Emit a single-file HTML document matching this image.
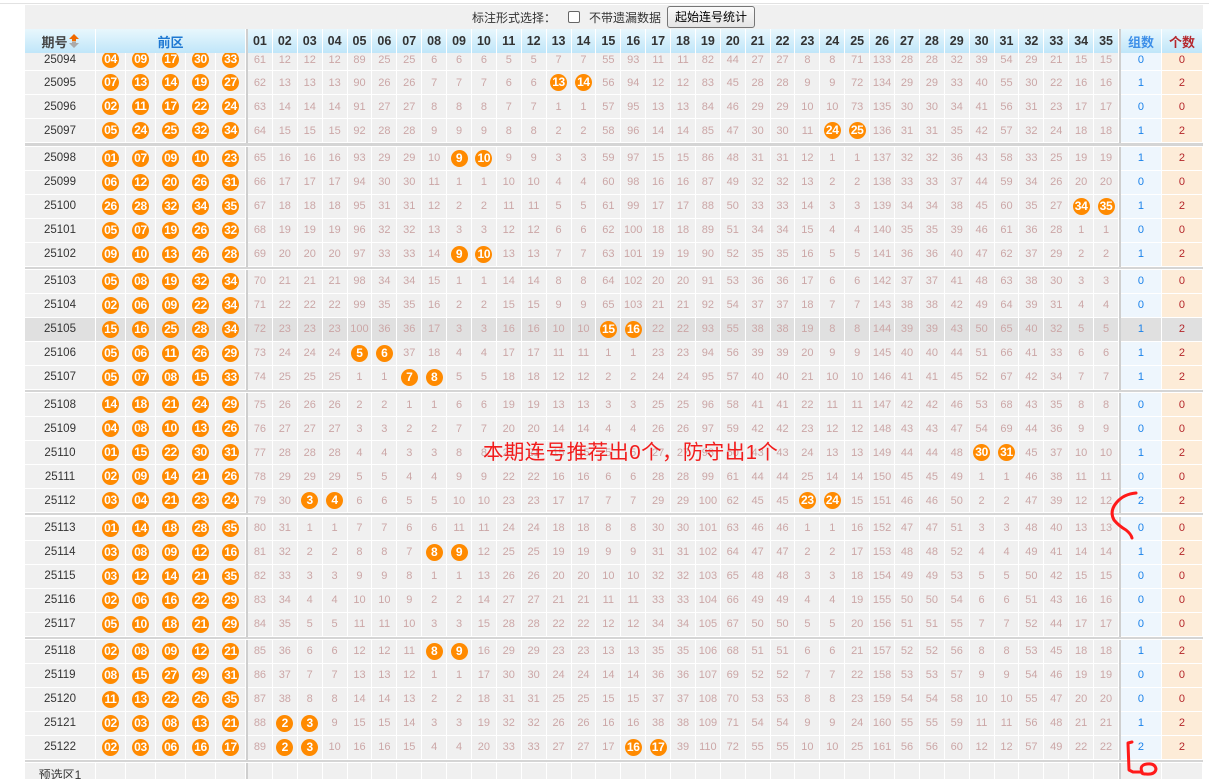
<!DOCTYPE html>
<html><head><meta charset="utf-8">
<style>
html,body{margin:0;padding:0;background:#fff;width:1209px;height:779px;overflow:hidden;position:relative;font-family:"Liberation Sans","Noto Sans CJK SC",sans-serif}
.tl{position:absolute;left:0;top:3px;width:1209px;height:1px;background:#e2e2e2}
.tb{position:absolute;left:25px;top:4.7px;width:1178px;height:24.6px;background:#f0f0f0}
.tx{position:absolute;top:11px;font-size:12px;line-height:14px;color:#333;white-space:nowrap}
.cb{position:absolute;left:568px;top:11px;width:12px;height:12px;box-sizing:border-box;border:1px solid #666;border-radius:2px;background:#fff}
.bt{position:absolute;left:667px;top:6px;width:88px;height:22px;box-sizing:border-box;border:1px solid #767676;border-radius:3px;background:linear-gradient(#fbfbfb,#e4e4e4);font-size:12px;line-height:20px;text-align:center;color:#000}
.hd,.r{position:absolute;left:25px;width:1178px;height:24px;display:grid;grid-template-columns:71px repeat(5,30px) 2px repeat(35,1fr) 2px 41px 41px}
.hd{top:29.3px;z-index:3}
.hd i{font-style:normal;background:linear-gradient(#e8f7fd,#c0e6f9);border-right:1px solid #fff;box-sizing:border-box;display:flex;align-items:center;justify-content:center;font-weight:bold;font-size:12.5px;color:#333}
.hd i.p{background:#cfcfcf;border:0}
.r i{font-style:normal;background:#f0f0f0;border-right:1px solid #fff;border-bottom:1px solid #fff;box-sizing:border-box;display:flex;align-items:center;justify-content:center;color:#cba6a6;font-size:11px;height:24px}
.r.f i{padding-top:2px}
.r i.p{background:#cfcfcf;border:0}
.r i:first-child{color:#333;font-size:11.5px}
.r i:nth-last-child(2){background:#eef6fd;color:#1a82ea}
.r i:last-child{background:#fdecd8;color:#b4262a}
.r.h i:not(.p){background:#e0e0e0}
.r.z i:not(.p){background:#f0f0f0}
.r.z i:first-child{font-size:12px}
b{display:block;width:17px;height:17px;border-radius:50%;background:#ff8a00;color:#fff;font:bold 12px/17px "Liberation Sans",sans-serif;text-align:center;letter-spacing:-0.3px}
.g{position:absolute;left:25px;width:1178px;height:2.3px;background:#d5d5d5}
.rt{position:absolute;left:483px;top:441px;font-size:20.5px;line-height:24px;color:#f21c1c;white-space:nowrap;letter-spacing:0.4px;z-index:5}
svg.mk{position:absolute;left:0;top:0;z-index:6}
</style></head><body>
<div class="tl"></div>
<div class="tb"></div>
<div class="tx" style="left:472px">标注形式选择：</div>
<div class="cb"></div>
<div class="tx" style="left:589px">不带遗漏数据</div>
<div class="bt">起始连号统计</div>

<div class="hd"><i style="color:#444;font-size:13px">期号<svg width="10" height="14" viewBox="0 0 10 14" style="margin-left:1px"><polygon points="5,0 10,5 7,5 7,7.3 3,7.3 3,5 0,5" fill="#f06a00"/><polygon points="3,7.7 7,7.7 7,9 10,9 5,14 0,9 3,9" fill="#aaa"/></svg></i><i style="grid-column:span 5;color:#1e78d2;font-size:13px">前区</i><i class=p></i><i>01</i><i>02</i><i>03</i><i>04</i><i>05</i><i>06</i><i>07</i><i>08</i><i>09</i><i>10</i><i>11</i><i>12</i><i>13</i><i>14</i><i>15</i><i>16</i><i>17</i><i>18</i><i>19</i><i>20</i><i>21</i><i>22</i><i>23</i><i>24</i><i>25</i><i>26</i><i>27</i><i>28</i><i>29</i><i>30</i><i>31</i><i>32</i><i>33</i><i>34</i><i>35</i><i class=p></i><i style="color:#3d8fe8;font-size:13px">组数</i><i style="color:#b5282e;font-size:13px">个数</i></div>

<div class="r f" style="top:47.3px"><i>25094</i><i><b>04</b></i><i><b>09</b></i><i><b>17</b></i><i><b>30</b></i><i><b>33</b></i><i class=p></i><i>61</i><i>12</i><i>12</i><i>12</i><i>89</i><i>25</i><i>25</i><i>6</i><i>6</i><i>6</i><i>5</i><i>5</i><i>7</i><i>7</i><i>55</i><i>93</i><i>11</i><i>11</i><i>82</i><i>44</i><i>27</i><i>27</i><i>8</i><i>8</i><i>71</i><i>133</i><i>28</i><i>28</i><i>32</i><i>39</i><i>54</i><i>29</i><i>21</i><i>15</i><i>15</i><i class=p></i><i>0</i><i>0</i></div>
<div class=r style="top:71.3px"><i>25095</i><i><b>07</b></i><i><b>13</b></i><i><b>14</b></i><i><b>19</b></i><i><b>27</b></i><i class=p></i><i>62</i><i>13</i><i>13</i><i>13</i><i>90</i><i>26</i><i>26</i><i>7</i><i>7</i><i>7</i><i>6</i><i>6</i><i><b>13</b></i><i><b>14</b></i><i>56</i><i>94</i><i>12</i><i>12</i><i>83</i><i>45</i><i>28</i><i>28</i><i>9</i><i>9</i><i>72</i><i>134</i><i>29</i><i>29</i><i>33</i><i>40</i><i>55</i><i>30</i><i>22</i><i>16</i><i>16</i><i class=p></i><i>1</i><i>2</i></div>
<div class=r style="top:95.3px"><i>25096</i><i><b>02</b></i><i><b>11</b></i><i><b>17</b></i><i><b>22</b></i><i><b>24</b></i><i class=p></i><i>63</i><i>14</i><i>14</i><i>14</i><i>91</i><i>27</i><i>27</i><i>8</i><i>8</i><i>8</i><i>7</i><i>7</i><i>1</i><i>1</i><i>57</i><i>95</i><i>13</i><i>13</i><i>84</i><i>46</i><i>29</i><i>29</i><i>10</i><i>10</i><i>73</i><i>135</i><i>30</i><i>30</i><i>34</i><i>41</i><i>56</i><i>31</i><i>23</i><i>17</i><i>17</i><i class=p></i><i>0</i><i>0</i></div>
<div class=r style="top:119.3px"><i>25097</i><i><b>05</b></i><i><b>24</b></i><i><b>25</b></i><i><b>32</b></i><i><b>34</b></i><i class=p></i><i>64</i><i>15</i><i>15</i><i>15</i><i>92</i><i>28</i><i>28</i><i>9</i><i>9</i><i>9</i><i>8</i><i>8</i><i>2</i><i>2</i><i>58</i><i>96</i><i>14</i><i>14</i><i>85</i><i>47</i><i>30</i><i>30</i><i>11</i><i><b>24</b></i><i><b>25</b></i><i>136</i><i>31</i><i>31</i><i>35</i><i>42</i><i>57</i><i>32</i><i>24</i><i>18</i><i>18</i><i class=p></i><i>1</i><i>2</i></div>
<div class=g style="top:143.3px"></div>

<div class=r style="top:146.6px"><i>25098</i><i><b>01</b></i><i><b>07</b></i><i><b>09</b></i><i><b>10</b></i><i><b>23</b></i><i class=p></i><i>65</i><i>16</i><i>16</i><i>16</i><i>93</i><i>29</i><i>29</i><i>10</i><i><b>9</b></i><i><b>10</b></i><i>9</i><i>9</i><i>3</i><i>3</i><i>59</i><i>97</i><i>15</i><i>15</i><i>86</i><i>48</i><i>31</i><i>31</i><i>12</i><i>1</i><i>1</i><i>137</i><i>32</i><i>32</i><i>36</i><i>43</i><i>58</i><i>33</i><i>25</i><i>19</i><i>19</i><i class=p></i><i>1</i><i>2</i></div>
<div class=r style="top:170.6px"><i>25099</i><i><b>06</b></i><i><b>12</b></i><i><b>20</b></i><i><b>26</b></i><i><b>31</b></i><i class=p></i><i>66</i><i>17</i><i>17</i><i>17</i><i>94</i><i>30</i><i>30</i><i>11</i><i>1</i><i>1</i><i>10</i><i>10</i><i>4</i><i>4</i><i>60</i><i>98</i><i>16</i><i>16</i><i>87</i><i>49</i><i>32</i><i>32</i><i>13</i><i>2</i><i>2</i><i>138</i><i>33</i><i>33</i><i>37</i><i>44</i><i>59</i><i>34</i><i>26</i><i>20</i><i>20</i><i class=p></i><i>0</i><i>0</i></div>
<div class=r style="top:194.6px"><i>25100</i><i><b>26</b></i><i><b>28</b></i><i><b>32</b></i><i><b>34</b></i><i><b>35</b></i><i class=p></i><i>67</i><i>18</i><i>18</i><i>18</i><i>95</i><i>31</i><i>31</i><i>12</i><i>2</i><i>2</i><i>11</i><i>11</i><i>5</i><i>5</i><i>61</i><i>99</i><i>17</i><i>17</i><i>88</i><i>50</i><i>33</i><i>33</i><i>14</i><i>3</i><i>3</i><i>139</i><i>34</i><i>34</i><i>38</i><i>45</i><i>60</i><i>35</i><i>27</i><i><b>34</b></i><i><b>35</b></i><i class=p></i><i>1</i><i>2</i></div>
<div class=r style="top:218.6px"><i>25101</i><i><b>05</b></i><i><b>07</b></i><i><b>19</b></i><i><b>26</b></i><i><b>32</b></i><i class=p></i><i>68</i><i>19</i><i>19</i><i>19</i><i>96</i><i>32</i><i>32</i><i>13</i><i>3</i><i>3</i><i>12</i><i>12</i><i>6</i><i>6</i><i>62</i><i>100</i><i>18</i><i>18</i><i>89</i><i>51</i><i>34</i><i>34</i><i>15</i><i>4</i><i>4</i><i>140</i><i>35</i><i>35</i><i>39</i><i>46</i><i>61</i><i>36</i><i>28</i><i>1</i><i>1</i><i class=p></i><i>0</i><i>0</i></div>
<div class=r style="top:242.6px"><i>25102</i><i><b>09</b></i><i><b>10</b></i><i><b>13</b></i><i><b>26</b></i><i><b>28</b></i><i class=p></i><i>69</i><i>20</i><i>20</i><i>20</i><i>97</i><i>33</i><i>33</i><i>14</i><i><b>9</b></i><i><b>10</b></i><i>13</i><i>13</i><i>7</i><i>7</i><i>63</i><i>101</i><i>19</i><i>19</i><i>90</i><i>52</i><i>35</i><i>35</i><i>16</i><i>5</i><i>5</i><i>141</i><i>36</i><i>36</i><i>40</i><i>47</i><i>62</i><i>37</i><i>29</i><i>2</i><i>2</i><i class=p></i><i>1</i><i>2</i></div>
<div class=g style="top:266.6px"></div>

<div class=r style="top:269.9px"><i>25103</i><i><b>05</b></i><i><b>08</b></i><i><b>19</b></i><i><b>32</b></i><i><b>34</b></i><i class=p></i><i>70</i><i>21</i><i>21</i><i>21</i><i>98</i><i>34</i><i>34</i><i>15</i><i>1</i><i>1</i><i>14</i><i>14</i><i>8</i><i>8</i><i>64</i><i>102</i><i>20</i><i>20</i><i>91</i><i>53</i><i>36</i><i>36</i><i>17</i><i>6</i><i>6</i><i>142</i><i>37</i><i>37</i><i>41</i><i>48</i><i>63</i><i>38</i><i>30</i><i>3</i><i>3</i><i class=p></i><i>0</i><i>0</i></div>
<div class=r style="top:293.9px"><i>25104</i><i><b>02</b></i><i><b>06</b></i><i><b>09</b></i><i><b>22</b></i><i><b>34</b></i><i class=p></i><i>71</i><i>22</i><i>22</i><i>22</i><i>99</i><i>35</i><i>35</i><i>16</i><i>2</i><i>2</i><i>15</i><i>15</i><i>9</i><i>9</i><i>65</i><i>103</i><i>21</i><i>21</i><i>92</i><i>54</i><i>37</i><i>37</i><i>18</i><i>7</i><i>7</i><i>143</i><i>38</i><i>38</i><i>42</i><i>49</i><i>64</i><i>39</i><i>31</i><i>4</i><i>4</i><i class=p></i><i>0</i><i>0</i></div>
<div class="r h" style="top:317.9px"><i>25105</i><i><b>15</b></i><i><b>16</b></i><i><b>25</b></i><i><b>28</b></i><i><b>34</b></i><i class=p></i><i>72</i><i>23</i><i>23</i><i>23</i><i>100</i><i>36</i><i>36</i><i>17</i><i>3</i><i>3</i><i>16</i><i>16</i><i>10</i><i>10</i><i><b>15</b></i><i><b>16</b></i><i>22</i><i>22</i><i>93</i><i>55</i><i>38</i><i>38</i><i>19</i><i>8</i><i>8</i><i>144</i><i>39</i><i>39</i><i>43</i><i>50</i><i>65</i><i>40</i><i>32</i><i>5</i><i>5</i><i class=p></i><i>1</i><i>2</i></div>
<div class=r style="top:341.9px"><i>25106</i><i><b>05</b></i><i><b>06</b></i><i><b>11</b></i><i><b>26</b></i><i><b>29</b></i><i class=p></i><i>73</i><i>24</i><i>24</i><i>24</i><i><b>5</b></i><i><b>6</b></i><i>37</i><i>18</i><i>4</i><i>4</i><i>17</i><i>17</i><i>11</i><i>11</i><i>1</i><i>1</i><i>23</i><i>23</i><i>94</i><i>56</i><i>39</i><i>39</i><i>20</i><i>9</i><i>9</i><i>145</i><i>40</i><i>40</i><i>44</i><i>51</i><i>66</i><i>41</i><i>33</i><i>6</i><i>6</i><i class=p></i><i>1</i><i>2</i></div>
<div class=r style="top:365.9px"><i>25107</i><i><b>05</b></i><i><b>07</b></i><i><b>08</b></i><i><b>15</b></i><i><b>33</b></i><i class=p></i><i>74</i><i>25</i><i>25</i><i>25</i><i>1</i><i>1</i><i><b>7</b></i><i><b>8</b></i><i>5</i><i>5</i><i>18</i><i>18</i><i>12</i><i>12</i><i>2</i><i>2</i><i>24</i><i>24</i><i>95</i><i>57</i><i>40</i><i>40</i><i>21</i><i>10</i><i>10</i><i>146</i><i>41</i><i>41</i><i>45</i><i>52</i><i>67</i><i>42</i><i>34</i><i>7</i><i>7</i><i class=p></i><i>1</i><i>2</i></div>
<div class=g style="top:389.9px"></div>

<div class=r style="top:393.2px"><i>25108</i><i><b>14</b></i><i><b>18</b></i><i><b>21</b></i><i><b>24</b></i><i><b>29</b></i><i class=p></i><i>75</i><i>26</i><i>26</i><i>26</i><i>2</i><i>2</i><i>1</i><i>1</i><i>6</i><i>6</i><i>19</i><i>19</i><i>13</i><i>13</i><i>3</i><i>3</i><i>25</i><i>25</i><i>96</i><i>58</i><i>41</i><i>41</i><i>22</i><i>11</i><i>11</i><i>147</i><i>42</i><i>42</i><i>46</i><i>53</i><i>68</i><i>43</i><i>35</i><i>8</i><i>8</i><i class=p></i><i>0</i><i>0</i></div>
<div class=r style="top:417.2px"><i>25109</i><i><b>04</b></i><i><b>08</b></i><i><b>10</b></i><i><b>13</b></i><i><b>26</b></i><i class=p></i><i>76</i><i>27</i><i>27</i><i>27</i><i>3</i><i>3</i><i>2</i><i>2</i><i>7</i><i>7</i><i>20</i><i>20</i><i>14</i><i>14</i><i>4</i><i>4</i><i>26</i><i>26</i><i>97</i><i>59</i><i>42</i><i>42</i><i>23</i><i>12</i><i>12</i><i>148</i><i>43</i><i>43</i><i>47</i><i>54</i><i>69</i><i>44</i><i>36</i><i>9</i><i>9</i><i class=p></i><i>0</i><i>0</i></div>
<div class=r style="top:441.2px"><i>25110</i><i><b>01</b></i><i><b>15</b></i><i><b>22</b></i><i><b>30</b></i><i><b>31</b></i><i class=p></i><i>77</i><i>28</i><i>28</i><i>28</i><i>4</i><i>4</i><i>3</i><i>3</i><i>8</i><i>8</i><i>21</i><i>21</i><i>15</i><i>15</i><i>5</i><i>5</i><i>27</i><i>27</i><i>98</i><i>60</i><i>43</i><i>43</i><i>24</i><i>13</i><i>13</i><i>149</i><i>44</i><i>44</i><i>48</i><i><b>30</b></i><i><b>31</b></i><i>45</i><i>37</i><i>10</i><i>10</i><i class=p></i><i>1</i><i>2</i></div>
<div class=r style="top:465.2px"><i>25111</i><i><b>02</b></i><i><b>09</b></i><i><b>14</b></i><i><b>21</b></i><i><b>26</b></i><i class=p></i><i>78</i><i>29</i><i>29</i><i>29</i><i>5</i><i>5</i><i>4</i><i>4</i><i>9</i><i>9</i><i>22</i><i>22</i><i>16</i><i>16</i><i>6</i><i>6</i><i>28</i><i>28</i><i>99</i><i>61</i><i>44</i><i>44</i><i>25</i><i>14</i><i>14</i><i>150</i><i>45</i><i>45</i><i>49</i><i>1</i><i>1</i><i>46</i><i>38</i><i>11</i><i>11</i><i class=p></i><i>0</i><i>0</i></div>
<div class=r style="top:489.2px"><i>25112</i><i><b>03</b></i><i><b>04</b></i><i><b>21</b></i><i><b>23</b></i><i><b>24</b></i><i class=p></i><i>79</i><i>30</i><i><b>3</b></i><i><b>4</b></i><i>6</i><i>6</i><i>5</i><i>5</i><i>10</i><i>10</i><i>23</i><i>23</i><i>17</i><i>17</i><i>7</i><i>7</i><i>29</i><i>29</i><i>100</i><i>62</i><i>45</i><i>45</i><i><b>23</b></i><i><b>24</b></i><i>15</i><i>151</i><i>46</i><i>46</i><i>50</i><i>2</i><i>2</i><i>47</i><i>39</i><i>12</i><i>12</i><i class=p></i><i>2</i><i>2</i></div>
<div class=g style="top:513.2px"></div>

<div class=r style="top:516.5px"><i>25113</i><i><b>01</b></i><i><b>14</b></i><i><b>18</b></i><i><b>28</b></i><i><b>35</b></i><i class=p></i><i>80</i><i>31</i><i>1</i><i>1</i><i>7</i><i>7</i><i>6</i><i>6</i><i>11</i><i>11</i><i>24</i><i>24</i><i>18</i><i>18</i><i>8</i><i>8</i><i>30</i><i>30</i><i>101</i><i>63</i><i>46</i><i>46</i><i>1</i><i>1</i><i>16</i><i>152</i><i>47</i><i>47</i><i>51</i><i>3</i><i>3</i><i>48</i><i>40</i><i>13</i><i>13</i><i class=p></i><i>0</i><i>0</i></div>
<div class=r style="top:540.5px"><i>25114</i><i><b>03</b></i><i><b>08</b></i><i><b>09</b></i><i><b>12</b></i><i><b>16</b></i><i class=p></i><i>81</i><i>32</i><i>2</i><i>2</i><i>8</i><i>8</i><i>7</i><i><b>8</b></i><i><b>9</b></i><i>12</i><i>25</i><i>25</i><i>19</i><i>19</i><i>9</i><i>9</i><i>31</i><i>31</i><i>102</i><i>64</i><i>47</i><i>47</i><i>2</i><i>2</i><i>17</i><i>153</i><i>48</i><i>48</i><i>52</i><i>4</i><i>4</i><i>49</i><i>41</i><i>14</i><i>14</i><i class=p></i><i>1</i><i>2</i></div>
<div class=r style="top:564.5px"><i>25115</i><i><b>03</b></i><i><b>12</b></i><i><b>14</b></i><i><b>21</b></i><i><b>35</b></i><i class=p></i><i>82</i><i>33</i><i>3</i><i>3</i><i>9</i><i>9</i><i>8</i><i>1</i><i>1</i><i>13</i><i>26</i><i>26</i><i>20</i><i>20</i><i>10</i><i>10</i><i>32</i><i>32</i><i>103</i><i>65</i><i>48</i><i>48</i><i>3</i><i>3</i><i>18</i><i>154</i><i>49</i><i>49</i><i>53</i><i>5</i><i>5</i><i>50</i><i>42</i><i>15</i><i>15</i><i class=p></i><i>0</i><i>0</i></div>
<div class=r style="top:588.5px"><i>25116</i><i><b>02</b></i><i><b>06</b></i><i><b>16</b></i><i><b>22</b></i><i><b>29</b></i><i class=p></i><i>83</i><i>34</i><i>4</i><i>4</i><i>10</i><i>10</i><i>9</i><i>2</i><i>2</i><i>14</i><i>27</i><i>27</i><i>21</i><i>21</i><i>11</i><i>11</i><i>33</i><i>33</i><i>104</i><i>66</i><i>49</i><i>49</i><i>4</i><i>4</i><i>19</i><i>155</i><i>50</i><i>50</i><i>54</i><i>6</i><i>6</i><i>51</i><i>43</i><i>16</i><i>16</i><i class=p></i><i>0</i><i>0</i></div>
<div class=r style="top:612.5px"><i>25117</i><i><b>05</b></i><i><b>10</b></i><i><b>18</b></i><i><b>21</b></i><i><b>29</b></i><i class=p></i><i>84</i><i>35</i><i>5</i><i>5</i><i>11</i><i>11</i><i>10</i><i>3</i><i>3</i><i>15</i><i>28</i><i>28</i><i>22</i><i>22</i><i>12</i><i>12</i><i>34</i><i>34</i><i>105</i><i>67</i><i>50</i><i>50</i><i>5</i><i>5</i><i>20</i><i>156</i><i>51</i><i>51</i><i>55</i><i>7</i><i>7</i><i>52</i><i>44</i><i>17</i><i>17</i><i class=p></i><i>0</i><i>0</i></div>
<div class=g style="top:636.5px"></div>

<div class=r style="top:639.8px"><i>25118</i><i><b>02</b></i><i><b>08</b></i><i><b>09</b></i><i><b>12</b></i><i><b>21</b></i><i class=p></i><i>85</i><i>36</i><i>6</i><i>6</i><i>12</i><i>12</i><i>11</i><i><b>8</b></i><i><b>9</b></i><i>16</i><i>29</i><i>29</i><i>23</i><i>23</i><i>13</i><i>13</i><i>35</i><i>35</i><i>106</i><i>68</i><i>51</i><i>51</i><i>6</i><i>6</i><i>21</i><i>157</i><i>52</i><i>52</i><i>56</i><i>8</i><i>8</i><i>53</i><i>45</i><i>18</i><i>18</i><i class=p></i><i>1</i><i>2</i></div>
<div class=r style="top:663.8px"><i>25119</i><i><b>08</b></i><i><b>15</b></i><i><b>27</b></i><i><b>29</b></i><i><b>31</b></i><i class=p></i><i>86</i><i>37</i><i>7</i><i>7</i><i>13</i><i>13</i><i>12</i><i>1</i><i>1</i><i>17</i><i>30</i><i>30</i><i>24</i><i>24</i><i>14</i><i>14</i><i>36</i><i>36</i><i>107</i><i>69</i><i>52</i><i>52</i><i>7</i><i>7</i><i>22</i><i>158</i><i>53</i><i>53</i><i>57</i><i>9</i><i>9</i><i>54</i><i>46</i><i>19</i><i>19</i><i class=p></i><i>0</i><i>0</i></div>
<div class=r style="top:687.8px"><i>25120</i><i><b>11</b></i><i><b>13</b></i><i><b>22</b></i><i><b>26</b></i><i><b>35</b></i><i class=p></i><i>87</i><i>38</i><i>8</i><i>8</i><i>14</i><i>14</i><i>13</i><i>2</i><i>2</i><i>18</i><i>31</i><i>31</i><i>25</i><i>25</i><i>15</i><i>15</i><i>37</i><i>37</i><i>108</i><i>70</i><i>53</i><i>53</i><i>8</i><i>8</i><i>23</i><i>159</i><i>54</i><i>54</i><i>58</i><i>10</i><i>10</i><i>55</i><i>47</i><i>20</i><i>20</i><i class=p></i><i>0</i><i>0</i></div>
<div class=r style="top:711.8px"><i>25121</i><i><b>02</b></i><i><b>03</b></i><i><b>08</b></i><i><b>13</b></i><i><b>21</b></i><i class=p></i><i>88</i><i><b>2</b></i><i><b>3</b></i><i>9</i><i>15</i><i>15</i><i>14</i><i>3</i><i>3</i><i>19</i><i>32</i><i>32</i><i>26</i><i>26</i><i>16</i><i>16</i><i>38</i><i>38</i><i>109</i><i>71</i><i>54</i><i>54</i><i>9</i><i>9</i><i>24</i><i>160</i><i>55</i><i>55</i><i>59</i><i>11</i><i>11</i><i>56</i><i>48</i><i>21</i><i>21</i><i class=p></i><i>1</i><i>2</i></div>
<div class=r style="top:735.8px"><i>25122</i><i><b>02</b></i><i><b>03</b></i><i><b>06</b></i><i><b>16</b></i><i><b>17</b></i><i class=p></i><i>89</i><i><b>2</b></i><i><b>3</b></i><i>10</i><i>16</i><i>16</i><i>15</i><i>4</i><i>4</i><i>20</i><i>33</i><i>33</i><i>27</i><i>27</i><i>17</i><i><b>16</b></i><i><b>17</b></i><i>39</i><i>110</i><i>72</i><i>55</i><i>55</i><i>10</i><i>10</i><i>25</i><i>161</i><i>56</i><i>56</i><i>60</i><i>12</i><i>12</i><i>57</i><i>49</i><i>22</i><i>22</i><i class=p></i><i>2</i><i>2</i></div>
<div class=g style="top:759.8px"></div>

<div class="r z" style="top:763.1px"><i>预选区1</i><i></i><i></i><i></i><i></i><i></i><i class=p></i><i></i><i></i><i></i><i></i><i></i><i></i><i></i><i></i><i></i><i></i><i></i><i></i><i></i><i></i><i></i><i></i><i></i><i></i><i></i><i></i><i></i><i></i><i></i><i></i><i></i><i></i><i></i><i></i><i></i><i></i><i></i><i></i><i></i><i></i><i></i><i class=p></i><i></i><i></i></div>

<div class="rt">本期连号推荐出0个，防守出1个</div>

<svg class="mk" width="1209" height="779" viewBox="0 0 1209 779">
<g fill="none" stroke="#ff1a1a" stroke-width="3" stroke-linecap="round" stroke-linejoin="round">
<path d="M1136 493 Q1124 494 1117 502 Q1109 511 1114 520 Q1119 526 1126 530 Q1131 534 1132 538"/>
<path d="M1132 742 L1128 743 L1129 770 L1133 772 L1142 772"/>
<path d="M1142 772 Q1139 765 1147 764 Q1155 763 1156 769 Q1155 775 1146 774 Q1141 774 1142 772"/>
</g>
</svg>
</body></html>
